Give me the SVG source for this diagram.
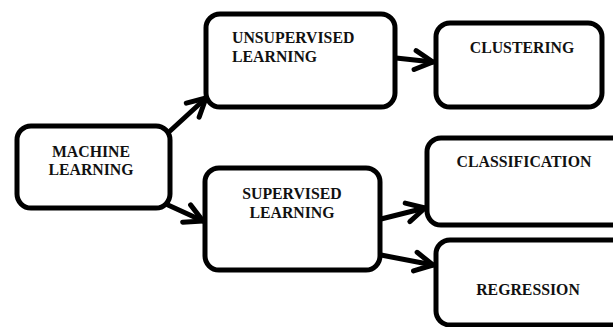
<svg xmlns="http://www.w3.org/2000/svg" width="613" height="327" viewBox="0 0 613 327">
<defs>
<style>
.box{fill:#fff;stroke:#000;stroke-width:5}
.t{font-family:"Liberation Serif","Times New Roman",serif;font-weight:bold;font-size:15.8px;fill:#111}
.c{text-anchor:middle}
.edge{stroke:#000;stroke-width:5;fill:none;stroke-linecap:round}
</style>
<marker id="arr" markerUnits="userSpaceOnUse" markerWidth="26" markerHeight="26" viewBox="0 0 26 26" refX="22" refY="13" orient="auto">
<path d="M4,3.5 L22,13 L4,22.5" fill="none" stroke="#000" stroke-width="5" stroke-linecap="round" stroke-linejoin="round"/>
</marker>
</defs>
<rect width="613" height="327" fill="#fff"/>
<g id="connectors">
<line class="edge" x1="170" y1="131" x2="206" y2="98" marker-end="url(#arr)"/>
<line class="edge" x1="168" y1="205" x2="203" y2="221" marker-end="url(#arr)"/>
<line class="edge" x1="396" y1="58" x2="433" y2="62" marker-end="url(#arr)"/>
<line class="edge" x1="381" y1="219" x2="425" y2="208" marker-end="url(#arr)"/>
<line class="edge" x1="381" y1="255" x2="433" y2="265" marker-end="url(#arr)"/>
</g>
<g id="machine-learning">
<rect class="box" x="17" y="126" width="153" height="82" rx="14"/>
<text class="t c" x="91" y="157">MACHINE</text>
<text class="t c" x="91" y="175">LEARNING</text>
</g>
<g id="unsupervised-learning">
<rect class="box" x="206" y="14" width="189" height="93" rx="14"/>
<text class="t" x="232" y="43">UNSUPERVISED</text>
<text class="t" x="232" y="62">LEARNING</text>
</g>
<g id="clustering">
<rect class="box" x="436" y="23" width="166" height="84" rx="14"/>
<text class="t c" x="522" y="53">CLUSTERING</text>
</g>
<g id="supervised-learning">
<rect class="box" x="205" y="168" width="175" height="102" rx="14"/>
<text class="t c" x="292" y="199">SUPERVISED</text>
<text class="t c" x="292" y="218">LEARNING</text>
</g>
<g id="classification">
<rect class="box" x="427" y="138" width="200" height="87" rx="14"/>
<text class="t c" x="524" y="167">CLASSIFICATION</text>
</g>
<g id="regression">
<rect class="box" x="436" y="240" width="190" height="85" rx="14"/>
<text class="t c" x="528" y="295">REGRESSION</text>
</g>
</svg>
